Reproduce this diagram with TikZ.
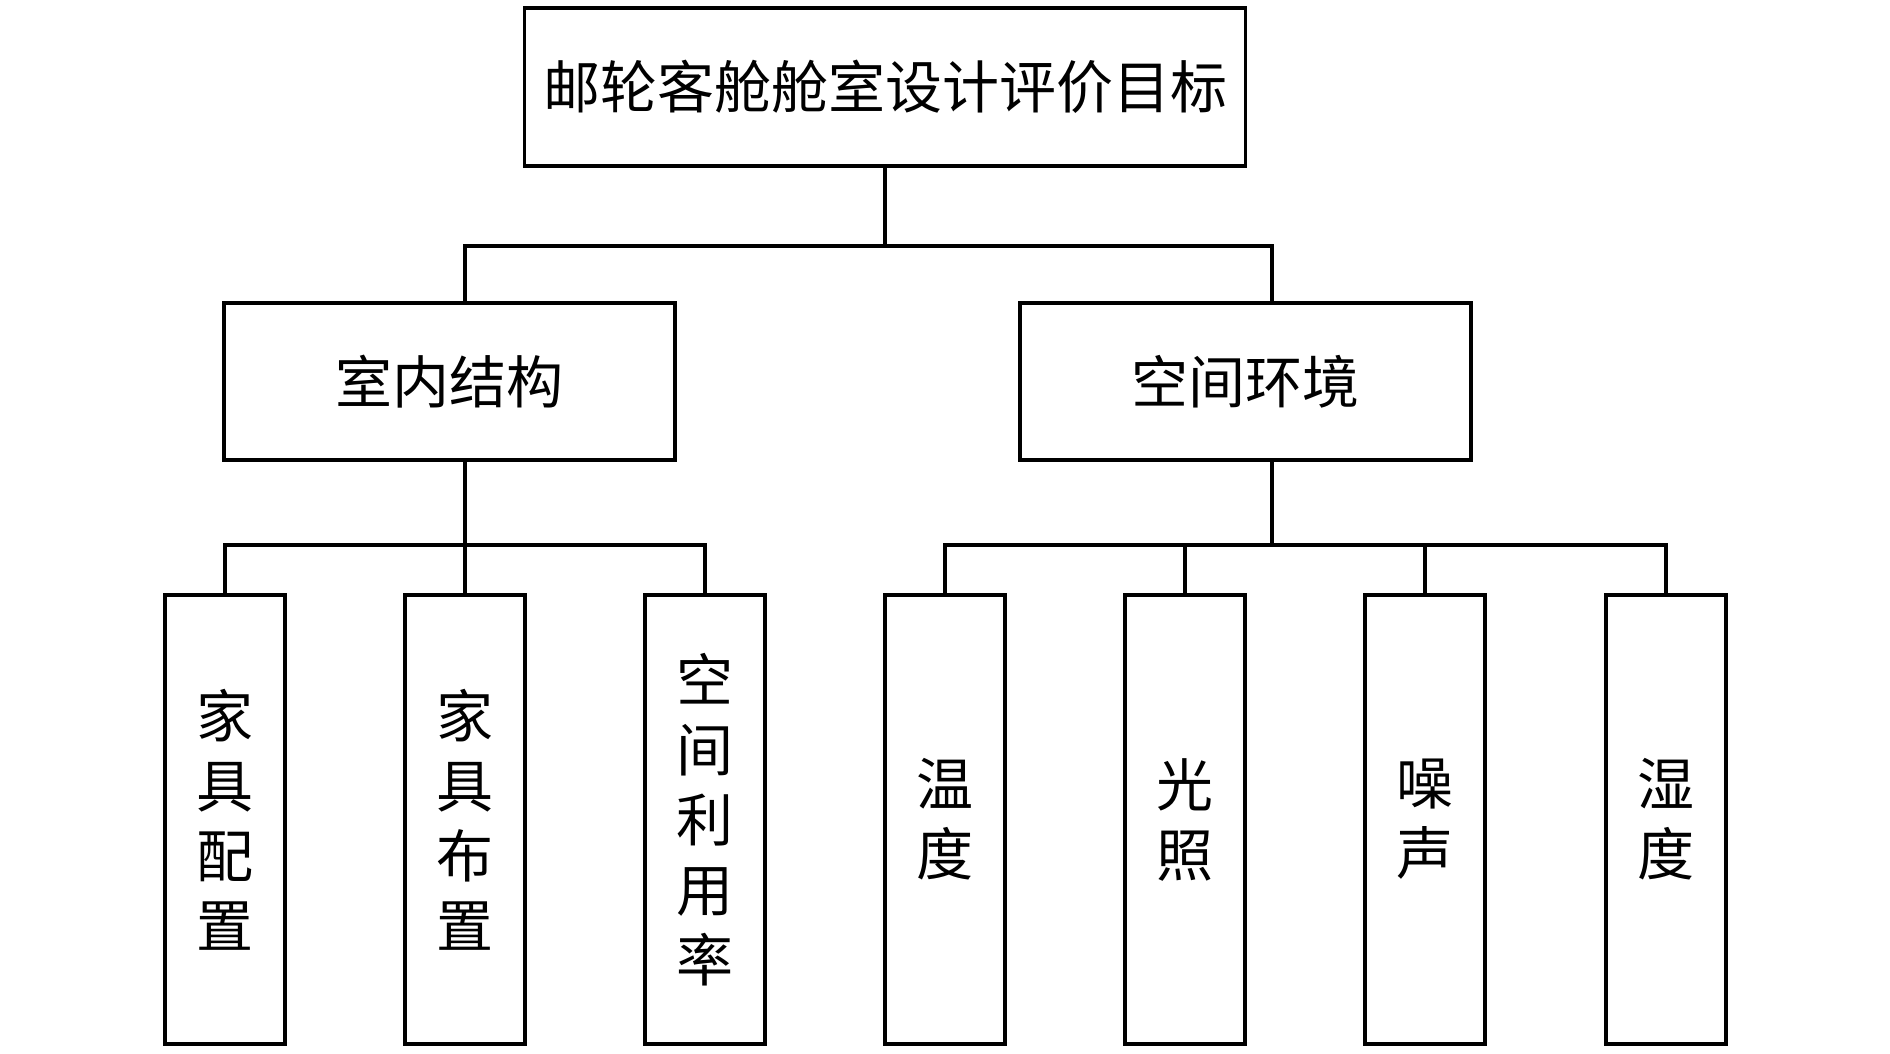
\documentclass[tikz,border=0pt]{standalone}
\usepackage{fontspec}
\setmainfont{Noto Sans CJK SC}
\begin{document}
\begin{tikzpicture}[x=1pt,y=-1pt,
  box/.style={draw, line width=3.6pt, inner sep=0pt, align=center, font=\fontsize{57}{70}\selectfont},
  bigbox/.style={box, minimum width=451pt, minimum height=157pt},
  tallbox/.style={box, minimum width=120pt, minimum height=449pt},
  conn/.style={line width=3.4pt, line cap=rect}]
\useasboundingbox (0,0) rectangle (1890,1054);
\node[box, minimum width=721pt, minimum height=158pt] (top) at (885,87) {邮轮客舱舱室设计评价目标};
\node[bigbox] (L) at (449.5,381.5) {室内结构};
\node[bigbox] (R) at (1245.5,381.5) {空间环境};
\node[tallbox] (b1) at (225,819.5) {家\\具\\配\\置};
\node[tallbox] (b2) at (465,819.5) {家\\具\\布\\置};
\node[tallbox] (b3) at (705,819.5) {空\\间\\利\\用\\率};
\node[tallbox] (b4) at (945,819.5) {温\\度};
\node[tallbox] (b5) at (1185,819.5) {光\\照};
\node[tallbox] (b6) at (1425,819.5) {噪\\声};
\node[tallbox] (b7) at (1666,819.5) {湿\\度};
\coordinate (j0) at (885,246);
\coordinate (rx) at (1272,0);
\coordinate (j1) at (465,545);
\coordinate (j2) at (1272,545);
\draw[conn] (top.south) -- (j0);
\draw[conn] (L.north -| b2.north) |- (j0) -| (R.north -| rx);
\draw[conn] (L.south -| b2.north) -- (b2.north);
\draw[conn] (b1.north) |- (j1) -| (b3.north);
\draw[conn] (R.south -| rx) -- (j2);
\draw[conn] (b4.north) |- (j2) -| (b7.north);
\draw[conn] (b5.north) -- (b5.north |- j2);
\draw[conn] (b6.north) -- (b6.north |- j2);
\end{tikzpicture}
\end{document}
